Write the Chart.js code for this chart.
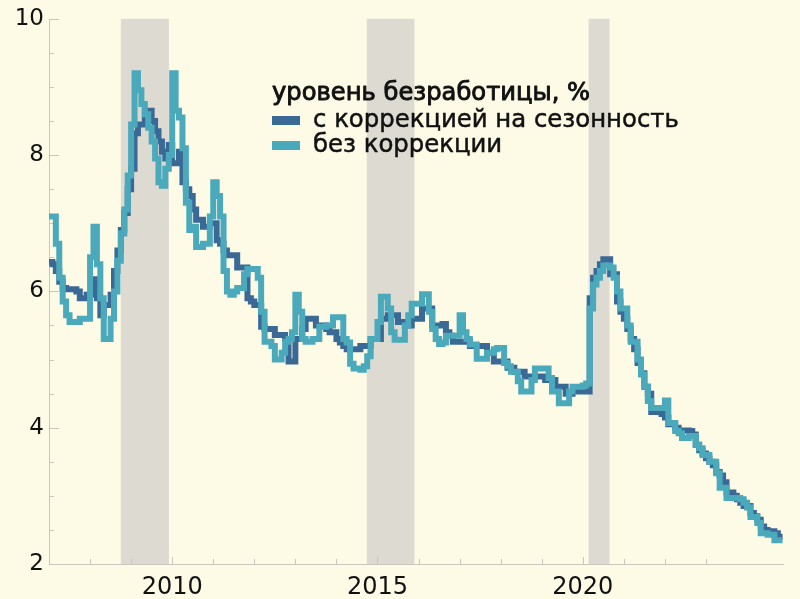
<!DOCTYPE html>
<html lang="ru">
<head>
<meta charset="utf-8">
<script src="https://cdn.jsdelivr.net/npm/chart.js@4.4.0/dist/chart.umd.min.js"></script>
<style>
  html, body { margin: 0; padding: 0; background: #fdfbe6; }
  canvas { display: block; }
</style>
</head>
<body>
<canvas id="chart" width="800" height="599"></canvas>
<script>
// monthly values, Jan 2007 .. Oct 2024
const startYear = 2007;

const seasonallyAdjusted = [
  6.43, 6.4, 6.3, 6.14, 6.05, 6.03, 6.03, 6.03, 6.0, 5.9, 5.9, 5.95,      // 2007
  5.95, 6.18, 5.9, 5.65, 5.8, 5.8, 5.95, 6.3, 6.6, 6.9, 7.15, 7.5,        // 2008
  7.8, 8.32, 8.45, 8.45, 8.65, 8.65, 8.5, 8.35, 8.2, 8.05, 7.95, 8.15,    // 2009
  7.88, 7.88, 8.05, 7.6, 7.5, 7.4, 7.2, 7.05, 7.05, 6.95, 6.95, 7.0,      // 2010
  7.0, 6.75, 6.7, 6.6, 6.53, 6.53, 6.53, 6.35, 6.35, 6.35, 5.9, 5.85,     // 2011
  5.8, 5.8, 5.48, 5.45, 5.45, 5.45, 5.36, 5.36, 5.36, 5.3, 4.97, 4.97,    // 2012
  5.3, 5.3, 5.45, 5.6, 5.6, 5.6, 5.5, 5.5, 5.5, 5.45, 5.4, 5.4,           // 2013
  5.3, 5.25, 5.2, 5.15, 5.15, 5.15, 5.15, 5.2, 5.2, 5.2, 5.3, 5.3,        // 2014
  5.3, 5.6, 5.6, 5.65, 5.65, 5.65, 5.55, 5.55, 5.5, 5.5, 5.6, 5.6,        // 2015
  5.6, 5.75, 5.75, 5.75, 5.5, 5.5, 5.5, 5.52, 5.4, 5.35, 5.26, 5.26,     // 2016
  5.26, 5.26, 5.26, 5.2, 5.2, 5.2, 5.2, 5.2, 5.1, 5.1, 4.97, 4.97,       // 2017
  4.97, 4.97, 4.88, 4.88, 4.82, 4.82, 4.82, 4.75, 4.75, 4.75, 4.75, 4.75, // 2018
  4.75, 4.7, 4.7, 4.7, 4.6, 4.6, 4.6, 4.5, 4.5, 4.53, 4.53, 4.53,         // 2019
  4.53, 4.53, 5.9, 6.2, 6.3, 6.4, 6.47, 6.47, 6.25, 6.25, 5.85, 5.7,      // 2020
  5.6, 5.45, 5.3, 5.15, 4.95, 4.8, 4.6, 4.5, 4.23, 4.23, 4.23, 4.2,       // 2021
  4.15, 4.05, 4.05, 4.0, 3.96, 3.96, 3.96, 3.95, 3.9, 3.75, 3.67, 3.62,   // 2022
  3.55, 3.5, 3.45, 3.35, 3.3, 3.2, 3.05, 3.05, 3.0, 2.95, 2.9, 2.85,      // 2023
  2.85, 2.75, 2.7, 2.65, 2.55, 2.5, 2.48, 2.48, 2.45, 2.4                 // 2024
];

const notAdjusted = [
  7.1, 7.1, 6.7, 6.2, 5.85, 5.65, 5.55, 5.55, 5.55, 5.6, 5.6, 5.6,       // 2007
  6.5, 6.95, 6.4, 5.9, 5.3, 5.3, 5.6, 6.0, 6.45, 6.85, 7.2, 7.7,          // 2008
  8.45, 9.2, 8.95, 8.75, 8.6, 8.4, 8.2, 7.95, 7.6, 7.55, 7.8, 8.0,        // 2009
  9.2, 8.65, 8.55, 8.1, 7.3, 6.9, 6.95, 6.65, 6.65, 6.7, 6.7, 7.1,        // 2010
  7.6, 7.4, 7.1, 6.3, 6.0, 5.95, 6.0, 6.05, 6.05, 6.25, 6.33, 6.33,       // 2011
  6.33, 6.2, 5.7, 5.26, 5.26, 5.2, 5.0, 5.0, 5.1, 5.26, 5.3, 5.4,         // 2012
  5.95, 5.7, 5.3, 5.26, 5.26, 5.3, 5.3, 5.48, 5.48, 5.5, 5.5, 5.62,       // 2013
  5.62, 5.62, 5.3, 5.25, 4.94, 4.87, 4.87, 4.85, 4.9, 5.05, 5.3, 5.3,     // 2014
  5.55, 5.92, 5.92, 5.75, 5.4, 5.29, 5.29, 5.29, 5.5, 5.65, 5.82, 5.82,   // 2015
  5.82, 5.96, 5.96, 5.7, 5.45, 5.3, 5.23, 5.25, 5.35, 5.35, 5.35, 5.35,   // 2016
  5.65, 5.4, 5.3, 5.22, 5.22, 5.01, 5.01, 5.01, 5.1, 5.1, 5.15, 5.17,     // 2017
  5.17, 4.95, 4.9, 4.82, 4.82, 4.68, 4.53, 4.53, 4.53, 4.7, 4.87, 4.87,   // 2018
  4.87, 4.87, 4.73, 4.53, 4.53, 4.36, 4.36, 4.36, 4.53, 4.6, 4.6, 4.6,    // 2019
  4.62, 4.65, 5.75, 6.1, 6.2, 6.3, 6.38, 6.38, 6.35, 6.2, 6.0, 5.75,      // 2020
  5.75, 5.5, 5.26, 5.26, 5.0, 4.78, 4.6, 4.39, 4.29, 4.29, 4.29, 4.29,    // 2021
  4.4, 4.07, 4.07, 3.95, 3.92, 3.85, 3.85, 3.88, 3.88, 3.75, 3.7, 3.6,    // 2022
  3.6, 3.5, 3.5, 3.33, 3.12, 3.12, 2.97, 2.97, 2.97, 2.97, 2.95, 2.9,     // 2023
  2.83, 2.69, 2.69, 2.6, 2.45, 2.45, 2.43, 2.43, 2.35, 2.35              // 2024
];

// shaded periods (decimal years)
const bandStart = [2008.75, 2014.74, 2020.14];
const bandEnd = [2009.92, 2015.9, 2020.65];

const xMin = 2007, xMax = 2024.9;
const yMin = 2, yMax = 10;
const yLabelStep = 2, yMinorStep = 0.5;
const xLabelEvery = 5;

const legendTitle = 'уровень безработицы, %';
const legendNames = ['с коррекцией на сезонность', 'без коррекции'];

const colors = {
  bg: '#fdfbe6',
  band: '#dddbd1',
  axis: '#c9c7bd',
  text: '#111111',
  sa: '#3b6996',
  nsa: '#4aa9bb'
};

const toPoints = arr => arr.map((v, i) => ({ x: startYear + (i + 0.5) / 12, y: v }));

const bandsAndAxes = {
  id: 'bandsAndAxes',
  beforeDatasetsDraw(chart) {
    const { ctx, chartArea: a, scales: { x, y } } = chart;
    ctx.save();
    ctx.fillStyle = colors.band;
    bandStart.forEach((s, i) => {
      const x0 = x.getPixelForValue(s), x1 = x.getPixelForValue(bandEnd[i]);
      ctx.fillRect(x0, a.top, x1 - x0, a.bottom - a.top);
    });
    ctx.strokeStyle = colors.axis;
    ctx.lineWidth = 1;
    ctx.beginPath();
    ctx.moveTo(a.left + 0.5, a.top);
    ctx.lineTo(a.left + 0.5, a.bottom + 0.5);
    ctx.lineTo(a.right, a.bottom + 0.5);
    // x ticks, every year, inward
    x.ticks.filter(t => Number.isInteger(t.value)).forEach(t => {
      const px = Math.round(x.getPixelForValue(t.value)) + 0.5;
      const len = t.value % xLabelEvery === 0 ? 7 : 5;
      ctx.moveTo(px, a.bottom);
      ctx.lineTo(px, a.bottom - len);
    });
    // y ticks, every 0.5, inward
    for (let v = yMin; v <= yMax + 1e-9; v += yMinorStep) {
      const py = Math.round(y.getPixelForValue(v)) + 0.5;
      const len = Math.abs(v % yLabelStep) < 1e-9 ? 10 : 5;
      ctx.moveTo(a.left, py);
      ctx.lineTo(a.left + len, py);
    }
    ctx.stroke();
    ctx.restore();
  }
};

// font size that makes the text as wide as in the original
function fitSize(ctx, text, family, width) {
  ctx.font = '100px ' + family;
  return 100 * width / ctx.measureText(text).width;
}

const legendFamily = '"DejaVu Sans", sans-serif';

const legendBox = {
  id: 'legendBox',
  afterDraw(chart) {
    const ctx = chart.ctx;
    ctx.save();
    ctx.textBaseline = 'alphabetic';
    ctx.fillStyle = colors.text;
    ctx.strokeStyle = colors.text;
    ctx.lineJoin = 'round';

    ctx.font = fitSize(ctx, legendTitle, legendFamily, 318).toFixed(2) + 'px ' + legendFamily;
    ctx.lineWidth = 0.9;
    ctx.fillText(legendTitle, 272, 100);
    ctx.strokeText(legendTitle, 272, 100);

    const size = fitSize(ctx, legendNames[0], legendFamily, 366);
    ctx.font = size.toFixed(2) + 'px ' + legendFamily;
    ctx.lineWidth = 0.5;
    const rows = [
      { color: colors.sa, name: legendNames[0], y: 127 },
      { color: colors.nsa, name: legendNames[1], y: 152 }
    ];
    rows.forEach(r => {
      ctx.fillStyle = r.color;
      ctx.fillRect(272, r.y - 11, 28, 9);
      ctx.fillStyle = colors.text;
      ctx.fillText(r.name, 313, r.y);
      ctx.strokeText(r.name, 313, r.y);
    });
    ctx.restore();
  }
};

new Chart(document.getElementById('chart'), {
  type: 'line',
  data: {
    datasets: [
      {
        label: legendNames[1],
        data: toPoints(notAdjusted),
        borderColor: colors.nsa,
        borderWidth: 6,
        stepped: 'middle',
        pointRadius: 0,
        fill: false,
        borderCapStyle: 'square',
        order: 0
      },
      {
        label: legendNames[0],
        data: toPoints(seasonallyAdjusted),
        borderColor: colors.sa,
        borderWidth: 6,
        stepped: 'middle',
        pointRadius: 0,
        fill: false,
        borderCapStyle: 'square',
        order: 1
      }
    ]
  },
  options: {
    responsive: false,
    animation: false,
    devicePixelRatio: 1,
    layout: { padding: { top: 15, right: 16, left: 0, bottom: 0 } },
    scales: {
      x: {
        type: 'linear',
        min: xMin,
        max: xMax,
        afterFit: s => { s.height = 35; },
        grid: { display: false, drawTicks: false },
        border: { display: false },
        ticks: {
          stepSize: 1,
          autoSkip: false,
          maxRotation: 0,
          padding: 9,
          color: colors.text,
          font: { family: '"DejaVu Sans", sans-serif', size: 24 },
          callback: v => (Number.isInteger(v) && v % xLabelEvery === 0) ? String(v) : ''
        }
      },
      y: {
        min: yMin,
        max: yMax,
        afterFit: s => { s.width = 49; },
        grid: { display: false, drawTicks: false },
        border: { display: false },
        ticks: {
          stepSize: yLabelStep,
          padding: 5,
          color: colors.text,
          font: { family: '"DejaVu Sans", sans-serif', size: 23 }
        }
      }
    },
    plugins: {
      legend: { display: false },
      tooltip: { enabled: false }
    }
  },
  plugins: [bandsAndAxes, legendBox]
});
</script>
</body>
</html>
